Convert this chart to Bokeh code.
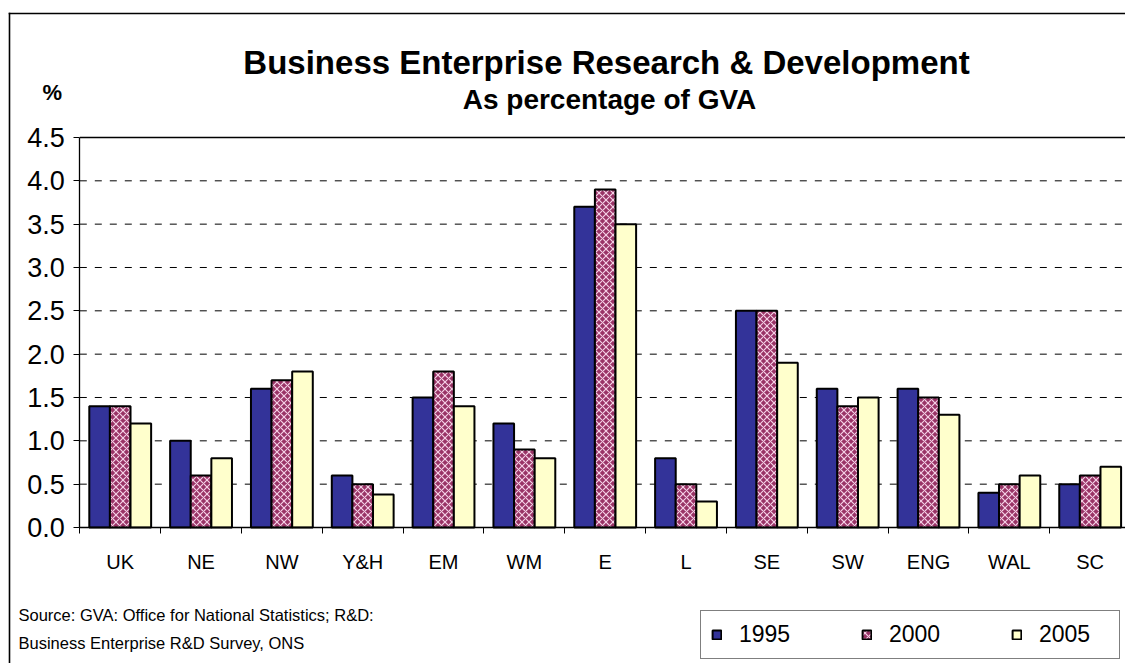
from bokeh.plotting import figure
from bokeh.models import (Range1d, FixedTicker, Label, Legend, LegendItem,
                          BoxAnnotation, ColumnDataSource)
from bokeh.embed import file_html
from bokeh.resources import INLINE

# ---------------- data ----------------
categories = ["UK", "NE", "NW", "Y&H", "EM", "WM", "E", "L", "SE", "SW", "ENG", "WAL", "SC"]
years = ["1995", "2000", "2005"]
v1995 = [1.4, 1.0, 1.6, 0.6, 1.5, 1.2, 3.7, 0.8, 2.5, 1.6, 1.6, 0.4, 0.5]
v2000 = [1.4, 0.6, 1.7, 0.5, 1.8, 0.9, 3.9, 0.5, 2.5, 1.4, 1.5, 0.5, 0.6]
v2005 = [1.2, 0.8, 1.8, 0.38, 1.4, 0.8, 3.5, 0.3, 1.9, 1.5, 1.3, 0.6, 0.7]
y_ticks = [0.0, 0.5, 1.0, 1.5, 2.0, 2.5, 3.0, 3.5, 4.0, 4.5]
y_tick_labels = ["0.0", "0.5", "1.0", "1.5", "2.0", "2.5", "3.0", "3.5", "4.0", "4.5"]
title_text = "Business Enterprise Research & Development"
subtitle_text = "As percentage of GVA"
unit_text = "%"
source_lines = ["Source: GVA: Office for National Statistics; R&D:",
                "Business Enterprise R&D Survey, ONS"]

# ---------------- layout (pixels) ----------------
FONT = "Liberation Sans"
W, H = 1125, 663
X0, CW = 79.3, 80.83      # plot-area left edge, width of one category
Y0, YU = 527.0, 86.67     # plot-area bottom, pixels per unit
BAR_W = 0.255


def px_x(px):
    return (px - X0) / CW


def px_y(py):
    return (Y0 - py) / YU


n = len(categories)
centers = [i + 0.5 for i in range(n)]
src = ColumnDataSource(dict(
    x1=[c - BAR_W for c in centers], x2=centers, x3=[c + BAR_W for c in centers],
    v1995=v1995, v2000=v2000, v2005=v2005))

p = figure(width=W, height=H, output_backend="svg", toolbar_location=None,
           x_range=Range1d(px_x(0), px_x(W)), y_range=Range1d(px_y(H), px_y(0)),
           min_border=0, background_fill_color="white", border_fill_color="white")
p.outline_line_color = None
p.xgrid.visible = False
p.ygrid.visible = False

# horizontal gridlines limited to the plot area (dashed), solid top border
grid_src = ColumnDataSource(dict(y=y_ticks[:-1], x0=[0] * (len(y_ticks) - 1),
                                 x1=[n] * (len(y_ticks) - 1)))
p.segment(x0="x0", x1="x1", y0="y", y1="y", source=grid_src, line_color="black",
          line_width=1, line_dash="7 8")
top_src = ColumnDataSource(dict(y=y_ticks[-1:], x0=[0], x1=[n]))
p.segment(x0="x0", x1="x1", y0="y", y1="y", source=top_src, line_color="black",
          line_width=1.3)

r1 = p.vbar(x="x1", top="v1995", width=BAR_W, source=src, fill_color="#333399",
            line_color="black", line_width=2)
r2 = p.vbar(x="x2", top="v2000", width=BAR_W, source=src, fill_color="#993366",
            hatch_pattern="diagonal_cross", hatch_color="#F4D0E6", hatch_scale=7,
            hatch_weight=1.2, line_color="black", line_width=2)
r3 = p.vbar(x="x3", top="v2005", width=BAR_W, source=src, fill_color="#FFFFCC",
            line_color="black", line_width=2)

# y axis
ya = p.yaxis[0]
ya.fixed_location = 0
ya.bounds = (y_ticks[0], y_ticks[-1])
ya.ticker = FixedTicker(ticks=y_ticks)
ya.major_label_overrides = dict(zip(y_ticks, y_tick_labels))
ya.major_tick_in = 0
ya.major_tick_out = 6
ya.minor_tick_line_color = None
ya.axis_line_color = "black"
ya.axis_line_width = 1.3
ya.major_tick_line_color = "black"
ya.major_label_text_font = FONT
ya.major_label_text_font_size = "27px"
ya.major_label_text_color = "black"
ya.major_label_standoff = 9

# x axis
xa = p.xaxis[0]
xa.fixed_location = 0
xa.bounds = (0, n)
xa.ticker = FixedTicker(ticks=centers, minor_ticks=list(range(n)))
xa.major_label_overrides = dict(zip(centers, categories))
xa.major_tick_in = 0
xa.major_tick_out = 0
xa.minor_tick_in = 0
xa.minor_tick_out = 6
xa.minor_tick_line_color = "black"
xa.axis_line_color = "black"
xa.axis_line_width = 1.3
xa.major_label_text_font = FONT
xa.major_label_text_font_size = "20px"
xa.major_label_text_color = "black"
xa.major_label_standoff = 17

# outer chart border (left and top edges only; the rest lies outside the view)
p.add_layout(BoxAnnotation(left=px_x(8.2), right=px_x(9.8), top=px_y(12.2),
                           fill_color="black", fill_alpha=1, line_color=None))
p.add_layout(BoxAnnotation(left=px_x(8.2), top=px_y(12.2), bottom=px_y(13.8),
                           fill_color="black", fill_alpha=1, line_color=None))


def add_text(txt, px, py, size, bold=False, align="left"):
    p.add_layout(Label(x=px_x(px), y=px_y(py), text=txt, text_align=align,
                       text_baseline="alphabetic", text_font=FONT,
                       text_font_style="bold" if bold else "normal",
                       text_font_size=size, text_color="black"))


add_text(title_text, 606, 62, "33px", bold=True, align="center")
add_text(subtitle_text, 609, 99, "28px", bold=True, align="center")
add_text(unit_text, 42, 92, "22px", bold=True)
add_text(source_lines[0], 18, 614, "16.5px")
add_text(source_lines[1], 18, 642, "16.5px")

# legend
legend = Legend(items=[LegendItem(label=years[0], renderers=[r1]),
                       LegendItem(label=years[1], renderers=[r2]),
                       LegendItem(label=years[2], renderers=[r3])],
                orientation="horizontal", location=(700, H - 659), margin=0,
                glyph_width=11, glyph_height=11, label_standoff=17, spacing=52,
                padding=10, label_width=70, label_text_font=FONT,
                label_text_font_size="23px", label_text_color="black",
                border_line_color="black", border_line_width=1,
                background_fill_color="white", background_fill_alpha=1)
p.add_layout(legend)

open("out.html", "w").write(file_html(p, INLINE))
